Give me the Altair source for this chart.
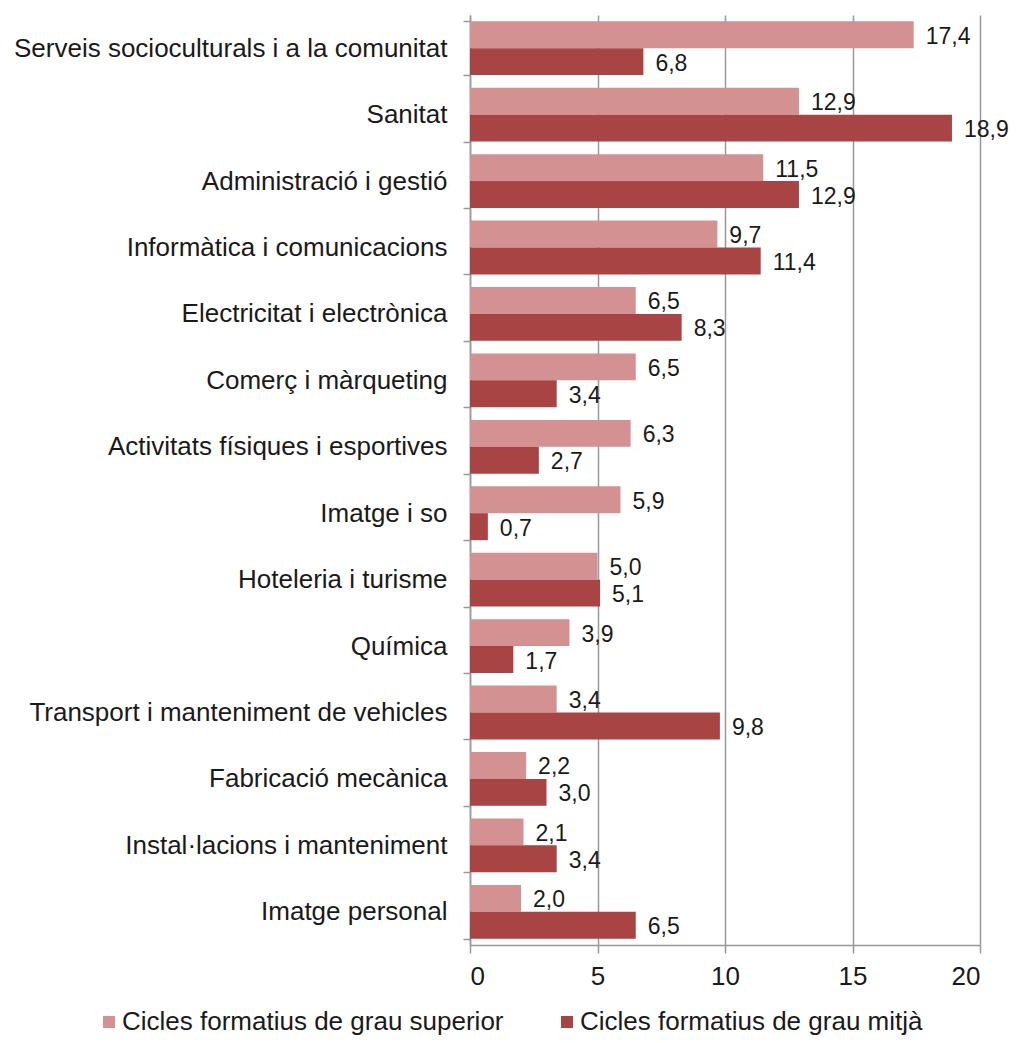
import altair as alt
import pandas as pd

categories = [
    "Serveis socioculturals i a la comunitat",
    "Sanitat",
    "Administració i gestió",
    "Informàtica i comunicacions",
    "Electricitat i electrònica",
    "Comerç i màrqueting",
    "Activitats físiques i esportives",
    "Imatge i so",
    "Hoteleria i turisme",
    "Química",
    "Transport i manteniment de vehicles",
    "Fabricació mecànica",
    "Instal·lacions i manteniment",
    "Imatge personal",
]
series_names = ["Cicles formatius de grau superior", "Cicles formatius de grau mitjà"]
superior = [17.4, 12.9, 11.5, 9.7, 6.5, 6.5, 6.3, 5.9, 5.0, 3.9, 3.4, 2.2, 2.1, 2.0]
mitja = [6.8, 18.9, 12.9, 11.4, 8.3, 3.4, 2.7, 0.7, 5.1, 1.7, 9.8, 3.0, 3.4, 6.5]
colors = ["#d39191", "#a84444"]

rows = []
for c, s, m in zip(categories, superior, mitja):
    rows.append({"cat": c, "serie": series_names[0], "val": s, "lab": f"{s:.1f}".replace(".", ",")})
    rows.append({"cat": c, "serie": series_names[1], "val": m, "lab": f"{m:.1f}".replace(".", ",")})
df = pd.DataFrame(rows)

FONT = "Liberation Sans"

y_enc = alt.Y("cat:N", sort=categories, title=None,
              scale=alt.Scale(paddingInner=0.19, paddingOuter=0.095),
              axis=alt.Axis(tickBand="extent", labelFontSize=26, labelFont=FONT,
                            labelColor="#1a1a1a", labelPadding=16, tickSize=7,
                            tickColor="#999999", domainColor="#999999", tickWidth=1.5,
                            domainWidth=1.5, labelLimit=600))
x_enc = alt.X("val:Q", title=None,
              scale=alt.Scale(domain=[0, 20], nice=False),
              axis=alt.Axis(values=[0, 5, 10, 15, 20], grid=True, gridColor="#999999",
                            gridWidth=1.5, labelFontSize=26, labelFont=FONT,
                            labelColor="#1a1a1a", tickSize=8, tickColor="#999999",
                            domainColor="#999999", tickWidth=1.5, domainWidth=1.5,
                            labelPadding=10))
yoff = alt.YOffset("serie:N", sort=series_names)

bars = alt.Chart(df).mark_bar().encode(
    y=y_enc, x=x_enc, yOffset=yoff,
    color=alt.Color("serie:N", sort=series_names,
                    scale=alt.Scale(domain=series_names, range=colors),
                    legend=alt.Legend(title=None, orient="none", direction="horizontal",
                                      legendX=-374, legendY=994, labelFontSize=26,
                                      labelFont=FONT, labelColor="#1a1a1a",
                                      symbolType="square", symbolSize=144,
                                      symbolStrokeWidth=0, columnPadding=50,
                                      labelOffset=0, labelLimit=700)),
)
texts = alt.Chart(df).mark_text(align="left", baseline="middle", dx=12, dy=2,
                                fontSize=23, font=FONT, color="#1a1a1a").encode(
    y=alt.Y("cat:N", sort=categories), x="val:Q", yOffset=yoff, text="lab:N"
)

chart = (bars + texts).properties(
    width=510, height=930,
    autosize=alt.AutoSizeParams(type="none"),
    padding={"left": 462, "top": 7, "right": 30, "bottom": 90},
).configure_view(stroke=None)

chart.save("out.html", embed_options={"renderer": "svg", "actions": False})
